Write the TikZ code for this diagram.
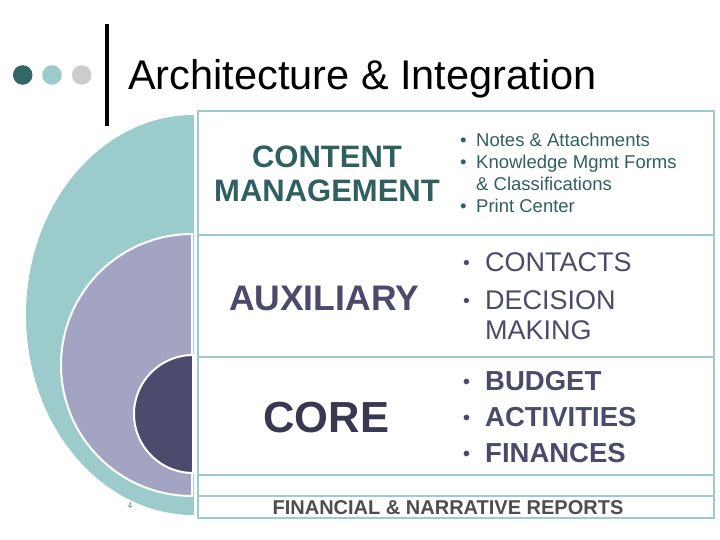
\documentclass[tikz,border=0pt]{standalone}
\usepackage{fontspec}
\usepackage{graphicx}
\setmainfont{Liberation Sans}
\usetikzlibrary{positioning}

\definecolor{tealbg}{HTML}{9CCBCB}
\definecolor{tealdark}{HTML}{336666}
\definecolor{tealtext}{HTML}{2F5F5F}
\definecolor{lavender}{HTML}{A3A3C2}
\definecolor{navy}{HTML}{4B4B6E}
\definecolor{navytext}{HTML}{4A4A6B}
\definecolor{coretext}{HTML}{383850}
\definecolor{dotgray}{HTML}{CCCCCC}
\definecolor{reportgray}{HTML}{4D4D4D}

\newcommand{\setfs}[2]{\fontsize{#1}{#2}\selectfont}
\newcommand{\bul}[1]{\makebox[#1][l]{\textbullet}}
\newcommand{\smallbul}[1]{\makebox[#1][l]{\raisebox{0.07em}{\scalebox{0.72}{\textbullet}}}}

\begin{document}
\begin{tikzpicture}[x=1pt,y=1pt,
  layerbox/.style={draw=tealbg, line width=2.5pt, minimum width=516pt,
    inner sep=0pt, outer sep=0pt},
  layerlabel/.style={font=\bfseries, inner sep=0pt, align=center},
  itemlist/.style={anchor=west, inner sep=0pt, align=left}]
  \useasboundingbox (0,0) rectangle (720,540);

  % title
  \foreach \x/\c in {22.7/tealdark,52/tealbg,81.7/dotgray}
    \fill[\c] (\x,465) circle (9.8);
  \draw[line width=3.3pt] (107,516) -- (107,414);
  \node[anchor=base west, inner sep=0pt, font=\setfs{41.5}{48}] (title) at (128,450)
    {Architecture \& Integration};

  % half discs
  \fill[tealbg] (194,425) arc[start angle=90, end angle=270, x radius=168, y radius=200] -- cycle;
  \filldraw[fill=lavender, draw=white, line width=2pt]
    (192,306) arc[start angle=90, end angle=270, radius=131] -- cycle;
  \filldraw[fill=navy, draw=white, line width=2pt]
    (193,185) arc[start angle=90, end angle=270, radius=59] -- cycle;

  % boxes
  \node[layerbox, anchor=north west, minimum height=124pt] (cmbox) at (198,429) {};
  \node[layerbox, minimum height=122pt, below=0pt of cmbox] (auxbox) {};
  \node[layerbox, minimum height=118pt, below=0pt of auxbox] (corebox) {};
  \node[layerbox, minimum height=21pt, below=0pt of corebox] (gapbox) {};
  \node[layerbox, minimum height=22pt, below=0pt of gapbox] (reportbox) {};

  % labels
  \node[layerlabel, text=tealtext, font=\bfseries\setfs{31}{34.4}] (cmlabel) at (327,366)
    {CONTENT\\MANAGEMENT};
  \node[layerlabel, text=navytext, font=\bfseries\setfs{35.5}{40}] (auxlabel) at (324,242)
    {AUXILIARY};
  \node[layerlabel, text=coretext, font=\bfseries\setfs{43.5}{48}] (corelabel) at (326.3,122.6)
    {CORE};

  % lists
  \node[itemlist, text=tealtext, font=\setfs{18.5}{22.2}] (cmlist) at (460,367.3)
    {\bul{16pt}Notes \& Attachments\\
     \bul{16pt}Knowledge Mgmt Forms\\
     \hspace*{16pt}\& Classifications\\
     \bul{16pt}Print Center};
  \node[itemlist, text=navytext, font=\setfs{27}{29.7}] (auxlist) at (463,244)
    {\smallbul{22pt}CONTACTS\\[8.9pt]
     \smallbul{22pt}DECISION\\
     \hspace*{22pt}MAKING};
  \node[itemlist, text=navytext, font=\bfseries\setfs{27.5}{35.8}] (corelist) at (463,122.8)
    {\smallbul{22pt}BUDGET\\
     \smallbul{22pt}ACTIVITIES\\
     \smallbul{22pt}FINANCES};

  \node[inner sep=0pt, text=reportgray, font=\bfseries\setfs{20}{24}] (reports) at (448,32.2)
    {FINANCIAL \& NARRATIVE REPORTS};
  \node[inner sep=0pt, text=gray, font=\setfs{8.5}{10}] (slideno) at (130,34.3) {4};
\end{tikzpicture}
\end{document}
